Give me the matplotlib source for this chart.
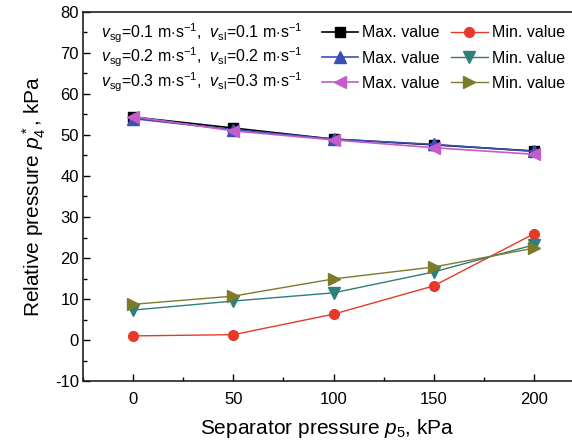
import numpy as np
import matplotlib.pyplot as plt
from matplotlib.ticker import MultipleLocator

plt.rcParams['font.family'] = ['Liberation Sans', 'DejaVu Sans']
plt.rcParams['mathtext.fontset'] = 'custom'
plt.rcParams['mathtext.it'] = 'Liberation Sans:italic'
plt.rcParams['mathtext.rm'] = 'Liberation Sans'
plt.rcParams['axes.unicode_minus'] = False

p5 = [0, 50, 100, 150, 200]

max_01 = [54.4, 51.7, 49.0, 47.6, 46.1]
max_02 = [54.0, 51.3, 49.0, 47.7, 46.0]
max_03 = [54.5, 51.0, 48.8, 46.9, 45.3]

min_01 = [1.0, 1.3, 6.3, 13.2, 25.9]
min_02 = [7.3, 9.5, 11.5, 16.6, 23.2]
min_03 = [8.7, 10.7, 14.9, 17.8, 22.4]

cond_labels = [
    r"$v_{\rm sg}$=0.1 m$\cdot$s$^{-1}$,  $v_{\rm sl}$=0.1 m$\cdot$s$^{-1}$",
    r"$v_{\rm sg}$=0.2 m$\cdot$s$^{-1}$,  $v_{\rm sl}$=0.2 m$\cdot$s$^{-1}$",
    r"$v_{\rm sg}$=0.3 m$\cdot$s$^{-1}$,  $v_{\rm sl}$=0.3 m$\cdot$s$^{-1}$",
]

fig = plt.figure(figsize=(5.72, 4.41), dpi=100)
ax = fig.add_axes([83 / 572, 1 - 381 / 441, 1 - 83 / 572, 369 / 441])

ms = 7
h1, = ax.plot(p5, max_01, color='black', marker='s', ms=ms, lw=1.2, label='Max. value')
h2, = ax.plot(p5, max_02, color='#3a4fb5', marker='^', ms=ms + 1, lw=1.2, label='Max. value')
h3, = ax.plot(p5, max_03, color='#c45ccc', marker='<', ms=ms + 1, lw=1.2, label='Max. value')
h4, = ax.plot(p5, min_01, color='#e8382a', marker='o', ms=ms, lw=1.0, label='Min. value')
h5, = ax.plot(p5, min_02, color='#2e7f7a', marker='v', ms=ms + 1, lw=1.0, label='Min. value')
h6, = ax.plot(p5, min_03, color='#7d7a2c', marker='>', ms=ms + 1, lw=1.0, label='Min. value')

ax.set_xlim(-25, 219)
ax.set_ylim(-10, 80)
ax.xaxis.set_major_locator(MultipleLocator(50))
ax.xaxis.set_minor_locator(MultipleLocator(25))
ax.yaxis.set_major_locator(MultipleLocator(10))
ax.yaxis.set_minor_locator(MultipleLocator(5))
ax.tick_params(which='both', direction='in', labelsize=12, width=1)
ax.tick_params(which='major', length=5)
ax.tick_params(which='minor', length=3)
ax.tick_params(axis='x', pad=8)
ax.tick_params(axis='y', pad=3)
ax.spines['right'].set_visible(False)
for s in ['left', 'bottom', 'top']:
    ax.spines[s].set_linewidth(1.2)
    ax.spines[s].set_color('#222222')

ax.set_xlabel(r"Separator pressure $p_5$, kPa", fontsize=15, labelpad=7)
ax.set_ylabel(r"Relative pressure $p_4^*$, kPa", fontsize=15, labelpad=5)

ax.legend([h1, h2, h3, h4, h5, h6], [h.get_label() for h in [h1, h2, h3, h4, h5, h6]],
          ncol=2, loc='upper right', bbox_to_anchor=(1.005, 0.99), frameon=False,
          fontsize=11.5, handlelength=2.3, handletextpad=0.25, columnspacing=0.7,
          labelspacing=0.65, borderaxespad=0.2)

for i, t in enumerate(cond_labels):
    ax.text(0.243, 0.943 - i * 0.067, t, transform=ax.transAxes, fontsize=11.5,
            ha='center', va='center')

fig.savefig('out.png', dpi=100)
